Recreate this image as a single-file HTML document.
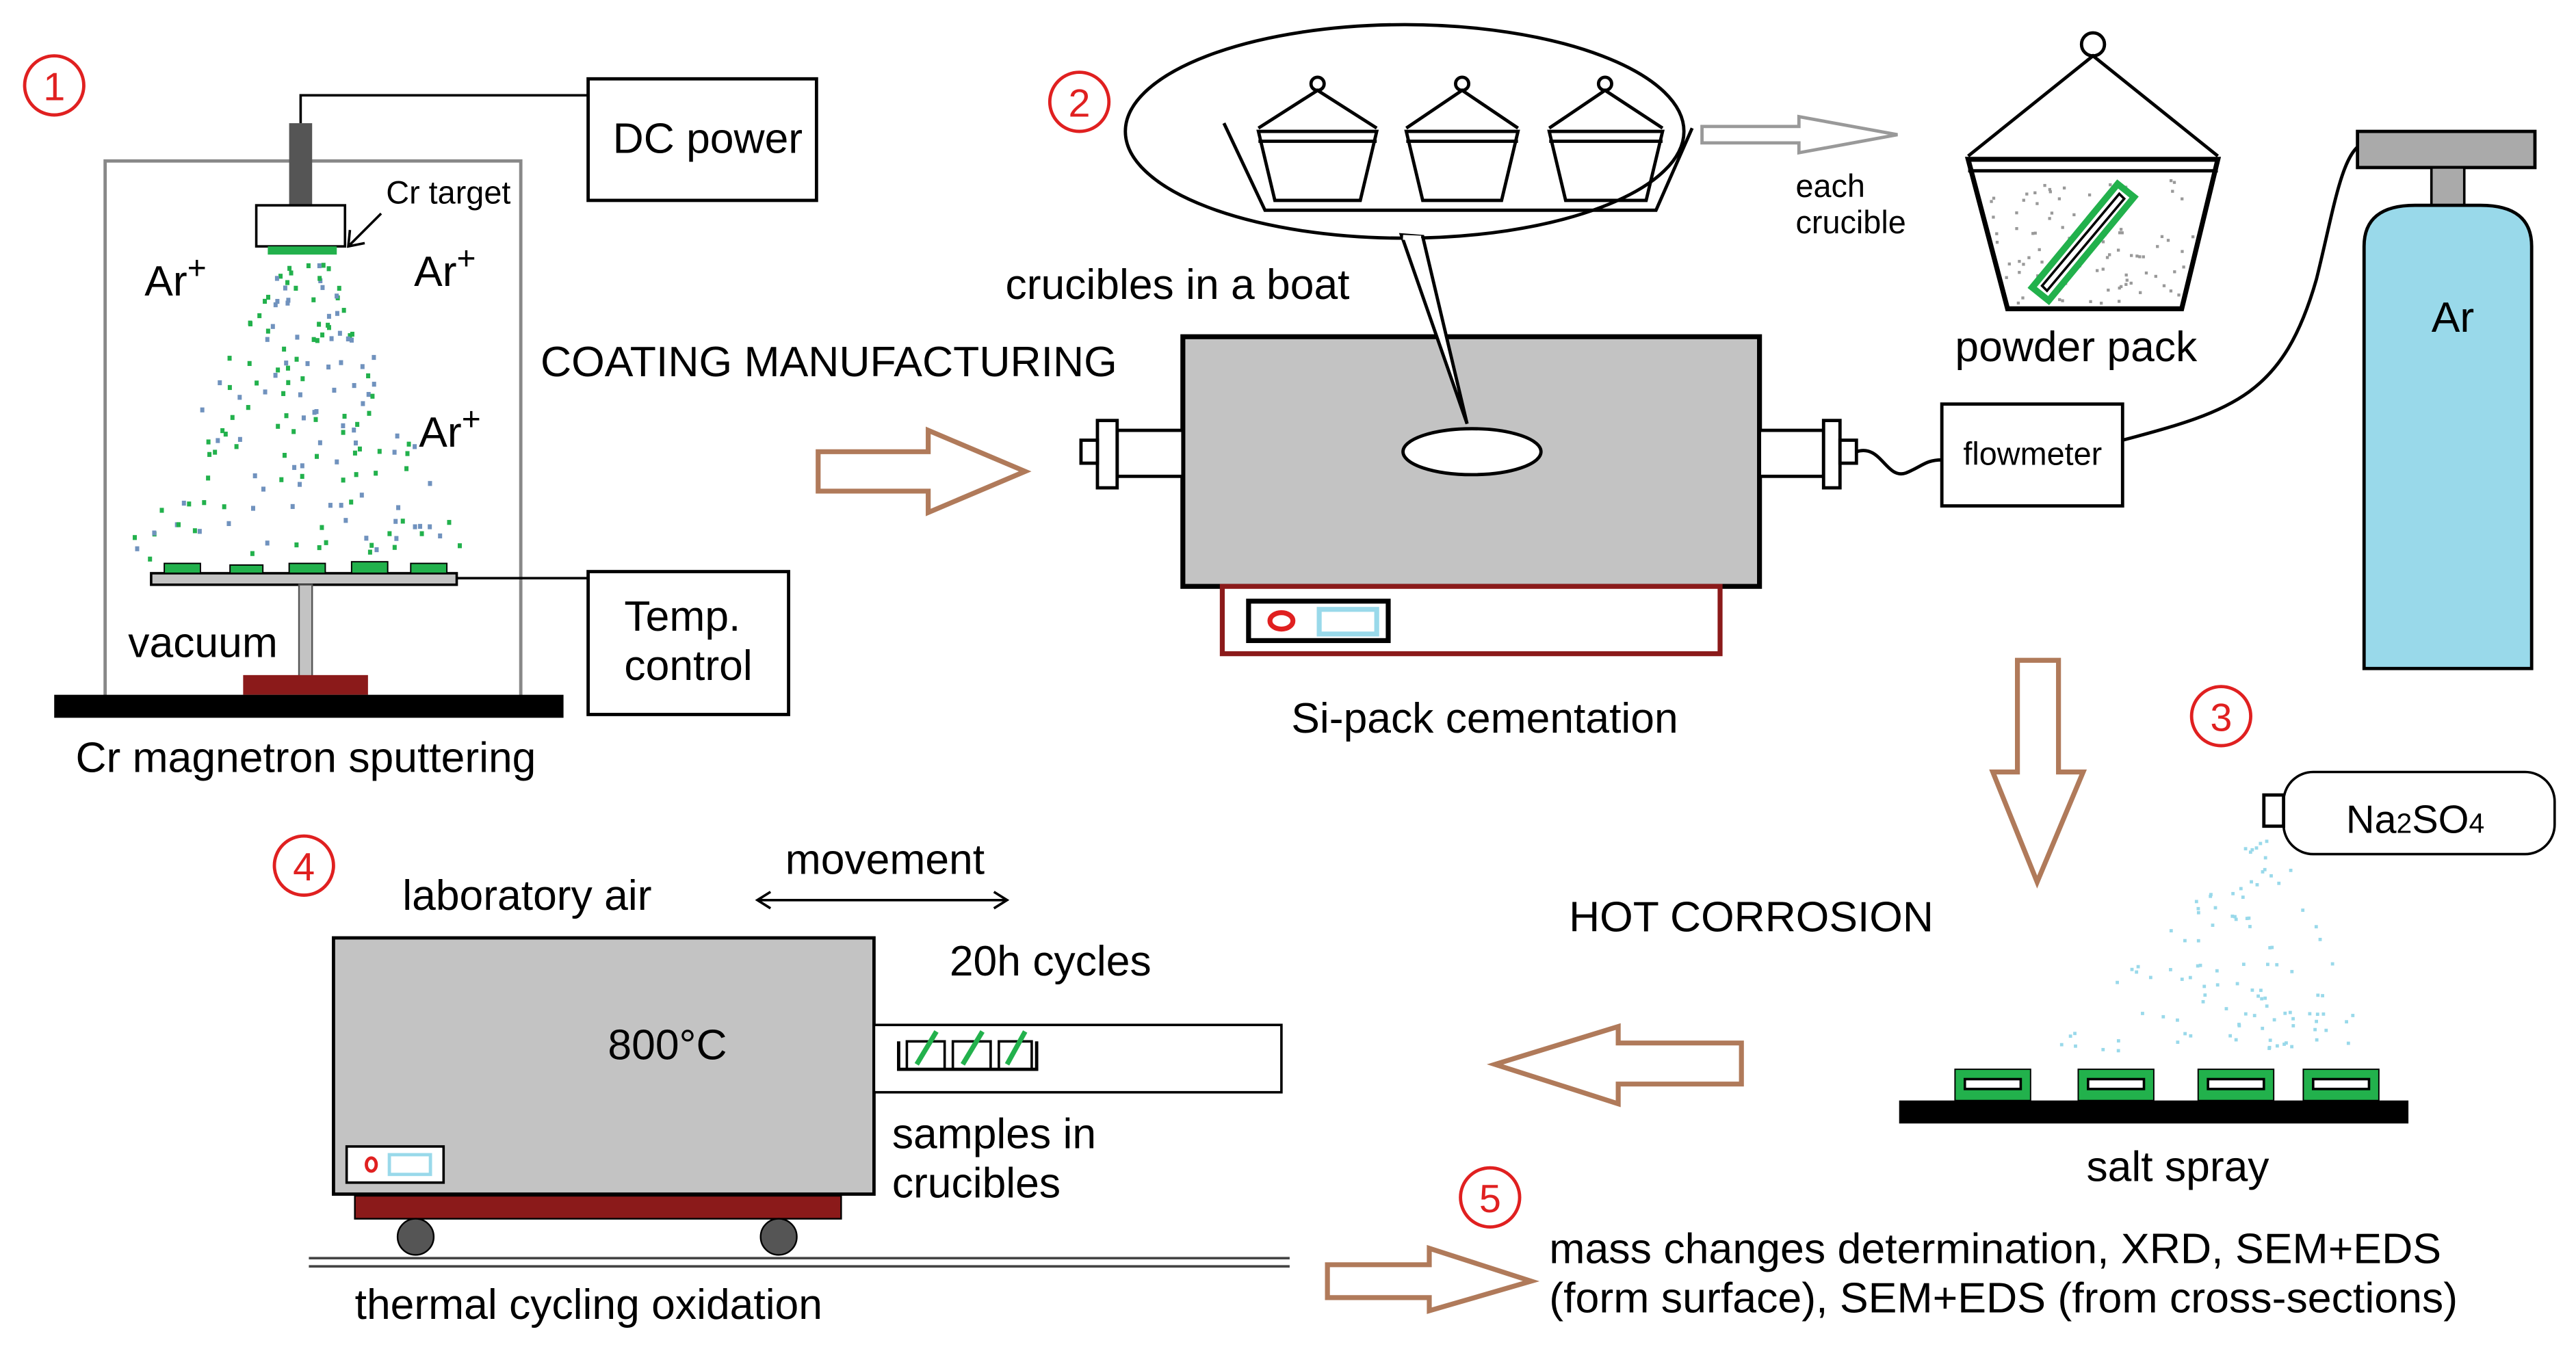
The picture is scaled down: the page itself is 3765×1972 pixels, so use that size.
<!DOCTYPE html>
<html><head><meta charset="utf-8"><style>
html,body{margin:0;padding:0;background:#fff}
svg{display:block}
text{font-family:"Liberation Sans",Arial,sans-serif;fill:#000}
</style></head><body>
<svg id="s" width="3765" height="1972" viewBox="0 0 1568 821.3" preserveAspectRatio="none" xmlns="http://www.w3.org/2000/svg">
<rect width="1568" height="822" fill="#fff"/>
<g fill="none" stroke="#e02020" stroke-width="2">
<circle cx="33" cy="52" r="18"/><circle cx="657" cy="62" r="18"/><circle cx="1352" cy="436" r="18"/><circle cx="185" cy="527" r="18"/><circle cx="907" cy="729" r="18"/>
</g>
<g font-size="24" text-anchor="middle">
<text x="33" y="61" style="fill:#e02020">1</text><text x="657" y="71" style="fill:#e02020">2</text><text x="1352" y="445" style="fill:#e02020">3</text><text x="185" y="536" style="fill:#e02020">4</text><text x="907" y="738" style="fill:#e02020">5</text>
</g>
<!-- section 1 -->
<rect x="64" y="98" width="253" height="327" fill="none" stroke="#888" stroke-width="2"/>
<polyline points="183,75 183,58 358,58" fill="none" stroke="#000" stroke-width="1.5"/>
<rect x="176" y="75" width="14" height="50" fill="#555"/>
<rect x="156" y="125" width="54" height="25" fill="#fff" stroke="#000" stroke-width="1.5"/>
<rect x="163" y="150" width="42" height="5" fill="#22b14c"/>
<rect x="358" y="48" width="139" height="74" fill="#fff" stroke="#000" stroke-width="2"/>
<text x="373" y="93" font-size="26">DC power</text>
<text x="235" y="124" font-size="19.5">Cr target</text>
<line x1="232" y1="130" x2="213" y2="149" stroke="#000" stroke-width="1.5"/>
<polyline points="213,140 212,150 222,148" fill="none" stroke="#000" stroke-width="1.5"/>
<text x="88" y="180" font-size="26">Ar<tspan dy="-10" font-size="20">+</tspan></text>
<text x="252" y="174" font-size="26">Ar<tspan dy="-10" font-size="20">+</tspan></text>
<text x="255" y="272" font-size="26">Ar<tspan dy="-10" font-size="20">+</tspan></text>
<g id="dots1"></g>
<rect x="92" y="349" width="186" height="7" fill="#c3c3c3" stroke="#000" stroke-width="1.5"/>
<g fill="#22b14c" stroke="#000" stroke-width="0.8">
<rect x="100" y="343" width="22" height="6"/><rect x="140" y="344" width="20" height="5"/><rect x="176" y="343" width="22" height="6"/><rect x="214" y="342" width="22" height="7"/><rect x="250" y="343" width="22" height="6"/></g>
<line x1="278" y1="352" x2="358" y2="352" stroke="#000" stroke-width="1.5"/>
<rect x="358" y="348" width="122" height="87" fill="#fff" stroke="#000" stroke-width="2"/>
<text x="380" y="384" font-size="26">Temp.</text><text x="380" y="414" font-size="26">control</text>
<rect x="182" y="356" width="8" height="56" fill="#c3c3c3" stroke="#555"/>
<rect x="148" y="411" width="76" height="12" fill="#8b1a1a"/>
<rect x="33" y="423" width="310" height="14" fill="#000"/>
<text x="78" y="400" font-size="26">vacuum</text>
<text x="46" y="470" font-size="26">Cr magnetron sputtering</text>
<text x="329" y="229" font-size="26" textLength="351" lengthAdjust="spacingAndGlyphs">COATING MANUFACTURING</text>
<polygon points="498,275 565,275 565,262 624,287 565,312 565,299 498,299" fill="#fff" stroke="#b07a5a" stroke-width="3"/>
<!-- section 2 -->
<ellipse cx="855" cy="80" rx="170" ry="65" fill="#fff" stroke="#000" stroke-width="2"/>
<polyline points="745,75 770,128 1008,128 1030,78" fill="none" stroke="#000" stroke-width="2"/>
<g fill="none" stroke="#000" stroke-width="2">
<circle cx="802" cy="51" r="4"/><polyline points="766,78 802,55 838,78"/><polygon points="766,80 838,80 828,122 776,122"/><line x1="766" y1="86" x2="838" y2="86"/>
<circle cx="890" cy="51" r="4"/><polyline points="856,78 890,55 924,78"/><polygon points="856,80 924,80 914,122 866,122"/><line x1="856" y1="86" x2="924" y2="86"/>
<circle cx="977" cy="51" r="4"/><polyline points="943,78 977,55 1012,78"/><polygon points="943,80 1012,80 1002,122 953,122"/><line x1="943" y1="86" x2="1012" y2="86"/>
</g>
<polygon points="1036,77 1095,77 1095,71 1155,82 1095,93 1095,87 1036,87" fill="#fff" stroke="#999" stroke-width="2"/>
<text x="1093" y="120" font-size="19.5">each</text><text x="1093" y="142" font-size="19.5">crucible</text>
<text x="612" y="182" font-size="26">crucibles in a boat</text>
<rect x="720" y="205" width="351" height="152" fill="#c3c3c3" stroke="#000" stroke-width="3"/>
<polygon points="853,143 893,258 866,144" fill="#fff" stroke="#000" stroke-width="2"/>
<line x1="854" y1="144.5" x2="865" y2="145" stroke="#fff" stroke-width="3"/>
<ellipse cx="896" cy="275" rx="42" ry="14" fill="#fff" stroke="#000" stroke-width="2"/>
<g fill="#fff" stroke="#000" stroke-width="2">
<rect x="680" y="262" width="40" height="28"/><rect x="668" y="256" width="12" height="41"/><rect x="658" y="268" width="10" height="14"/>
<rect x="1071" y="262" width="39" height="28"/><rect x="1110" y="256" width="10" height="41"/><rect x="1120" y="268" width="10" height="14"/>
</g>
<path d="M1130,275 C1145,270 1148,292 1160,288 C1170,284 1172,280 1182,280" fill="none" stroke="#000" stroke-width="2"/>
<rect x="744" y="357" width="303" height="41" fill="#fff" stroke="#8b1a1a" stroke-width="3"/>
<rect x="760" y="366" width="85" height="24" fill="#fff" stroke="#000" stroke-width="3"/>
<ellipse cx="780" cy="378" rx="7" ry="5" fill="none" stroke="#e02020" stroke-width="3"/>
<rect x="803" y="371" width="35" height="15" fill="#fff" stroke="#99d9ea" stroke-width="3"/>
<text x="786" y="446" font-size="26">Si-pack cementation</text>
<circle cx="1274" cy="27" r="7" fill="#fff" stroke="#000" stroke-width="2"/>
<polyline points="1198,95 1274,34 1350,95" fill="none" stroke="#000" stroke-width="2"/>
<polygon points="1198,97 1350,97 1328,188 1222,188" fill="#fff" stroke="#000" stroke-width="3"/>
<line x1="1198" y1="104" x2="1350" y2="104" stroke="#000" stroke-width="2"/>
<g id="dots2"></g>
<polygon points="1237,175 1289,112 1299,120 1247,183" fill="#fff" stroke="#22b14c" stroke-width="4"/>
<polygon points="1243,174 1290,118 1293,121 1246,177" fill="#fff" stroke="#000" stroke-width="1.5"/>
<text x="1190" y="220" font-size="26">powder pack</text>
<rect x="1182" y="246" width="110" height="62" fill="#fff" stroke="#000" stroke-width="2"/>
<text x="1195" y="283" font-size="19.5">flowmeter</text>
<path d="M1292,268 C1360,250 1390,240 1410,170 C1420,130 1425,95 1437,88" fill="none" stroke="#000" stroke-width="2"/>
<rect x="1435" y="80" width="108" height="22" fill="#aaa" stroke="#000" stroke-width="2"/>
<rect x="1480" y="102" width="20" height="24" fill="#aaa" stroke="#000" stroke-width="1.5"/>
<path d="M1439,407 L1439,150 Q1439,125 1470,125 L1510,125 Q1541,125 1541,150 L1541,407 Z" fill="#99d9ea" stroke="#000" stroke-width="2"/>
<text x="1480" y="202" font-size="26">Ar</text>
<polygon points="1228,402 1253,402 1253,470 1268,470 1240,537 1213,470 1228,470" fill="#fff" stroke="#b07a5a" stroke-width="3"/>
<!-- section 3 -->
<rect x="1390" y="470" width="165" height="50" rx="18" fill="#fff" stroke="#000" stroke-width="1.5"/>
<rect x="1378" y="484" width="12" height="19" fill="#fff" stroke="#000" stroke-width="2"/>
<text x="1428" y="507" font-size="24">Na<tspan font-size="17">2</tspan>SO<tspan font-size="17">4</tspan></text>
<g id="dots3"></g>
<rect x="1156" y="670" width="310" height="14" fill="#000"/>
<g fill="#22b14c" stroke="#000" stroke-width="0.8">
<rect x="1190" y="651" width="46" height="19"/><rect x="1265" y="651" width="46" height="19"/><rect x="1338" y="651" width="46" height="19"/><rect x="1402" y="651" width="46" height="19"/></g>
<g fill="#fff" stroke="#000" stroke-width="1.5">
<rect x="1196" y="657" width="34" height="6"/><rect x="1271" y="657" width="34" height="6"/><rect x="1344" y="657" width="34" height="6"/><rect x="1408" y="657" width="34" height="6"/></g>
<text x="1270" y="719" font-size="26">salt spray</text>
<text x="955" y="567" font-size="26">HOT CORROSION</text>
<polygon points="910,648 985,625 985,635 1060,635 1060,660 985,660 985,672" fill="#fff" stroke="#b07a5a" stroke-width="3"/>
<!-- section 4 -->
<text x="245" y="554" font-size="26">laboratory air</text>
<text x="478" y="532" font-size="26">movement</text>
<line x1="461" y1="548" x2="613" y2="548" stroke="#000" stroke-width="1.5"/>
<polyline points="469,543 461,548 469,553" fill="none" stroke="#000" stroke-width="1.5"/>
<polyline points="605,543 613,548 605,553" fill="none" stroke="#000" stroke-width="1.5"/>
<text x="578" y="594" font-size="26">20h cycles</text>
<rect x="203" y="571" width="329" height="156" fill="#c3c3c3" stroke="#000" stroke-width="2"/>
<text x="370" y="645" font-size="26">800°C</text>
<rect x="211" y="698" width="59" height="22" fill="#fff" stroke="#000" stroke-width="1.5"/>
<ellipse cx="226" cy="709" rx="3" ry="4" fill="none" stroke="#e02020" stroke-width="2"/>
<rect x="237" y="703" width="25" height="12" fill="#fff" stroke="#99d9ea" stroke-width="2"/>
<rect x="216" y="728" width="296" height="14" fill="#8b1a1a" stroke="#000"/>
<circle cx="253" cy="753" r="11" fill="#555" stroke="#000"/>
<circle cx="474" cy="753" r="11" fill="#555" stroke="#000"/>
<line x1="188" y1="766" x2="785" y2="766" stroke="#444" stroke-width="1.5"/>
<line x1="188" y1="771" x2="785" y2="771" stroke="#444" stroke-width="1.5"/>
<rect x="532" y="624" width="248" height="41" fill="#fff" stroke="#000" stroke-width="1.5"/>
<polyline points="547,634 547,651 631,651 631,634" fill="none" stroke="#000" stroke-width="2"/>
<g fill="none" stroke="#000" stroke-width="1.5">
<polyline points="552,651 552,634 575,634 575,651"/><polyline points="580,651 580,634 603,634 603,651"/><polyline points="608,651 608,634 628,634 628,651"/></g>
<g stroke="#22b14c" stroke-width="3"><line x1="558" y1="648" x2="570" y2="628"/><line x1="586" y1="648" x2="598" y2="628"/><line x1="613" y1="648" x2="624" y2="628"/></g>
<text x="543" y="699" font-size="26">samples in</text><text x="543" y="729" font-size="26">crucibles</text>
<text x="216" y="803" font-size="26">thermal cycling oxidation</text>
<polygon points="808,770 870,770 870,760 932,780 870,798 870,790 808,790" fill="#fff" stroke="#b07a5a" stroke-width="3"/>
<text x="943" y="769" font-size="26" textLength="543" lengthAdjust="spacingAndGlyphs">mass changes determination, XRD, SEM+EDS</text>
<text x="943" y="799" font-size="26" textLength="553" lengthAdjust="spacingAndGlyphs">(form surface), SEM+EDS (from cross-sections)</text>
</svg>
<script>
var seed=7;function r(){seed=(seed*16807)%2147483647;return seed/2147483647;}
var NS="http://www.w3.org/2000/svg";
function dot(g,x,y,w,h,c){var e=document.createElementNS(NS,"rect");e.setAttribute("x",x);e.setAttribute("y",y);e.setAttribute("width",w);e.setAttribute("height",h);e.setAttribute("fill",c);g.appendChild(e);}
var g1=document.getElementById("dots1");
for(var i=0;i<170;i++){var t=r();var y=160+t*180;var half=15+t*95;var x=183+(r()*2-1)*half;var c=r()<0.6?"#22b14c":"#7092be";dot(g1,x,y,2.5,3,c);}
var g2=document.getElementById("dots2");
for(var i=0;i<90;i++){var t=r();var y=108+t*76;var half=72-t*22;var x=1274+(r()*2-1)*half;dot(g2,x,y,1.8,1.8,"#999");}
var g3=document.getElementById("dots3");
for(var i=0;i<110;i++){var t=Math.sqrt(r());var y=505+t*135;var half=5+t*95;var x=1380-t*33+(r()*2-1)*half;dot(g3,x,y,2,2,"#99d9ea");}
</script>
</body></html>
